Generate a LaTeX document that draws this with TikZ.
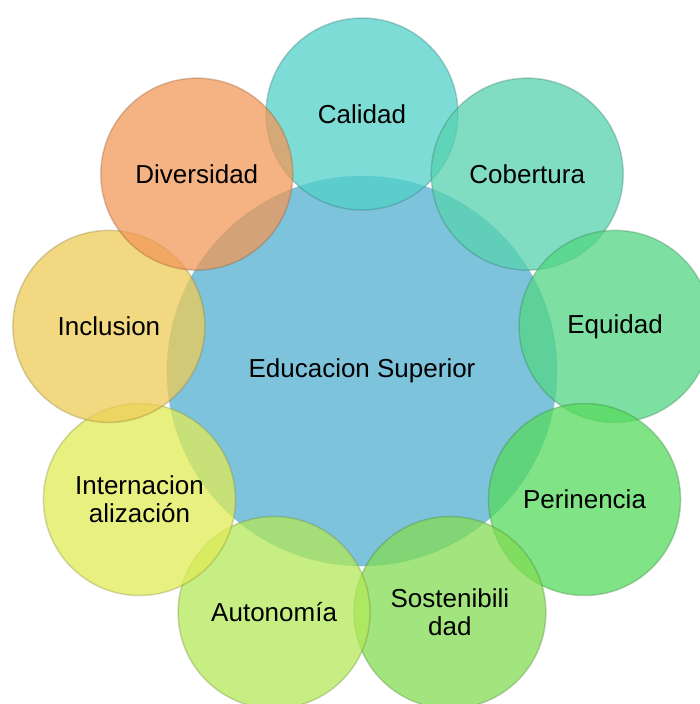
\documentclass[tikz,border=0pt]{standalone}
\usepackage{fontspec}
\setmainfont{Liberation Sans}
\usetikzlibrary{calc}
\definecolor{cHub}{RGB}{126,195,220}
\definecolor{cCal}{RGB}{83,208,200}
\definecolor{cCob}{RGB}{86,210,174}
\definecolor{cEqu}{RGB}{82,214,131}
\definecolor{cPer}{RGB}{86,218,92}
\definecolor{cSos}{RGB}{131,220,83}
\definecolor{cAut}{RGB}{179,232,88}
\definecolor{cInt}{RGB}{224,235,86}
\definecolor{cInc}{RGB}{238,204,87}
\definecolor{cDiv}{RGB}{242,152,88}
\begin{document}
\begin{tikzpicture}[x=1pt,y=-1pt]
\tikzset{
  lbl/.style={font=\fontsize{26}{28}\selectfont, align=center, text=black},
  hub/.style={circle, minimum size=390pt, inner sep=0pt, fill=cHub,
    draw=cHub!80!black, draw opacity=0.25, line width=1pt, lbl},
  petal/.style={circle, minimum size=192pt, inner sep=0pt, fill=#1,
    fill opacity=0.75, text opacity=1, draw=#1!55!black, draw opacity=0.3,
    line width=1.5pt, lbl},
}
\useasboundingbox (0,0) rectangle (700,704);
\node[hub] (hub) at (362,371) {Educacion Superior};
\node[petal=cCal] (cal) at ($(hub.center)+(-90:257)$) {Calidad};
\node[petal=cCob] (cob) at ($(hub.center)+(-50:257)$) {Cobertura};
\node[petal=cEqu] (equ) at ($(hub.center)+(-10:257)$) {Equidad};
\node[petal=cPer] (per) at ($(hub.center)+(30:257)$) {Perinencia};
\node[petal=cSos] (sos) at ($(hub.center)+(70:257)$) {Sostenibili\\dad};
\node[petal=cAut] (aut) at ($(hub.center)+(110:257)$) {Autonomía};
\node[petal=cInt] (int) at ($(hub.center)+(150:257)$) {Internacion\\alización};
\node[petal=cInc] (inc) at ($(hub.center)+(-170:257)$) {Inclusion};
\node[petal=cDiv] (div) at ($(hub.center)+(-130:257)$) {Diversidad};
\end{tikzpicture}
\end{document}
